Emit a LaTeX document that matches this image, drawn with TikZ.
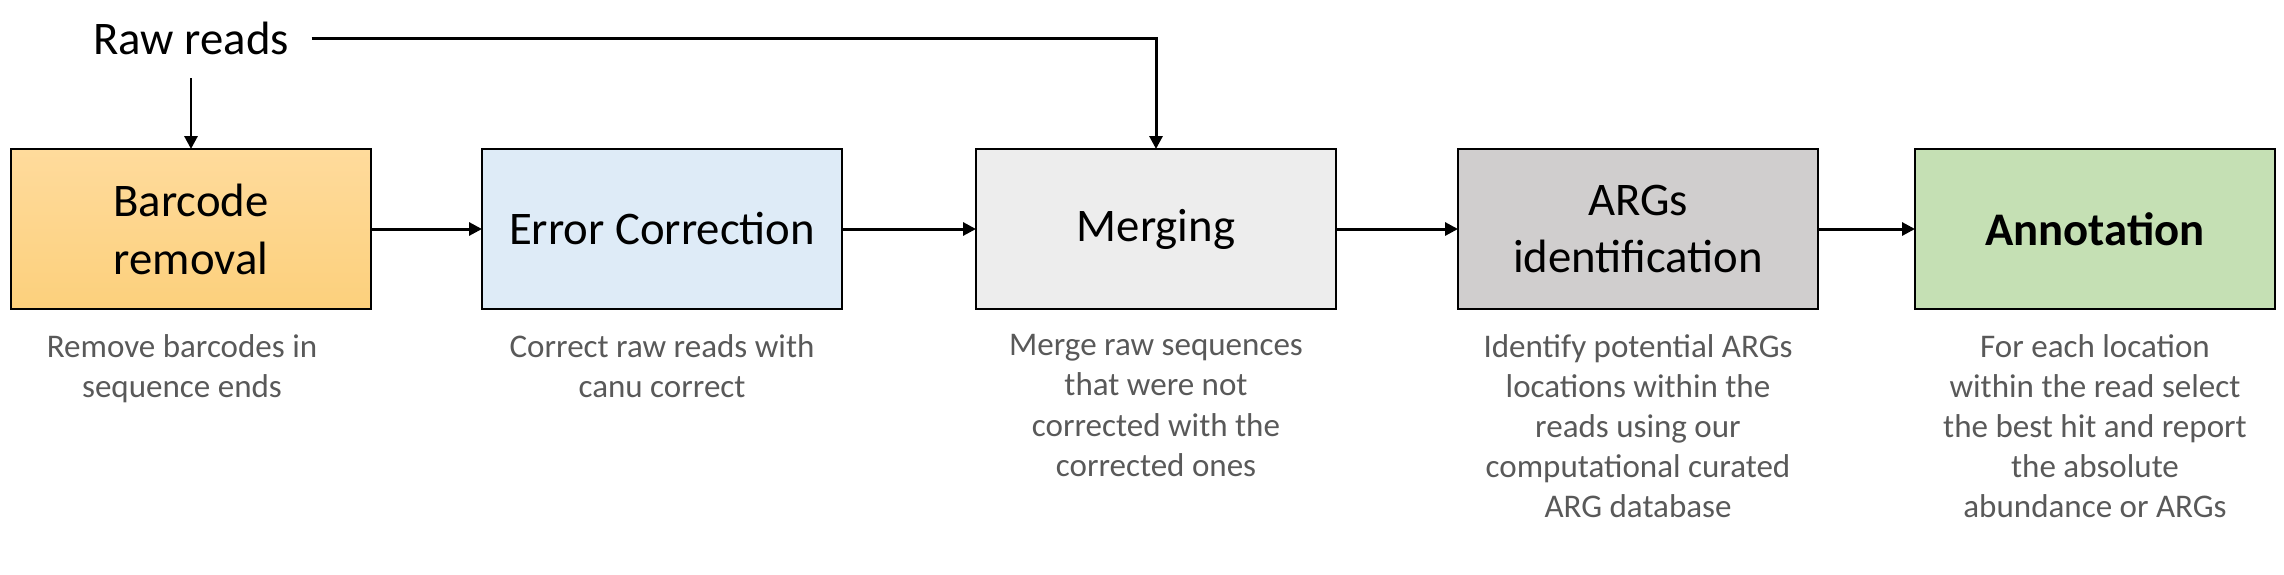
\documentclass[tikz,border=0pt]{standalone}
\usepackage{fontspec}
\setmainfont{Carlito}
\usepackage{tikz}
\usetikzlibrary{arrows.meta,positioning}
\definecolor{cBarT}{HTML}{FFDB9C}
\definecolor{cBarB}{HTML}{FCD07C}
\definecolor{cErr}{HTML}{DEEBF7}
\definecolor{cMrg}{HTML}{EDEDED}
\definecolor{cArg}{HTML}{D0CECE}
\definecolor{cAnn}{HTML}{C5E0B4}
\definecolor{cInk}{HTML}{000000}
\definecolor{cNote}{HTML}{595959}
\tikzset{
  >={Triangle[length=1.3mm,width=1.3mm]},
  stage/.style ={draw=cInk,line width=0.65pt,minimum width=3.6cm,minimum height=1.6cm,
                 inner sep=0pt,outer sep=0pt,align=center,font=\fontsize{13.3}{16.5}\selectfont},
  bstage/.style={stage,top color=cBarT,bottom color=cBarB},
  estage/.style={stage,fill=cErr}, mstage/.style={stage,fill=cMrg},
  gstage/.style={stage,fill=cArg}, astage/.style={stage,fill=cAnn},
  src/.style   ={inner sep=2.2mm,font=\fontsize{13.3}{16.5}\selectfont},
  note/.style  ={align=center,inner sep=0pt,text=cNote,font=\fontsize{9.4}{11.4}\selectfont},
  ar/.style    ={->,line width=0.85pt,cInk},
}

\begin{document}
\begin{tikzpicture}
\useasboundingbox (0,0) rectangle (22.84,-5.74);
\node[bstage] (bar) at (1.91,-2.29) {Barcode\\removal};
\node[estage,right=1.11cm of bar] (err) {Error Correction};
\node[mstage,right=1.34cm of err] (mrg) {Merging};
\node[gstage,right=1.22cm of mrg] (arg) {ARGs\\identification};
\node[astage,right=0.97cm of arg] (ann) {\textbf{Annotation}};
\node[src,above=0.71cm of bar] (raw) {Raw reads};
\node[note,below=0.25cm of bar,xshift=-0.09cm] (barN) {Remove barcodes in\\sequence ends};
\node[note,below=0.25cm of err] (errN) {Correct raw reads with\\canu correct};
\node[note,below=0.25cm of mrg] (mrgN) {Merge raw sequences\\that were not\\corrected with the\\corrected ones};
\node[note,below=0.25cm of arg] (argN) {Identify potential ARGs\\locations within the\\reads using our\\computational curated\\ARG database};
\node[note,below=0.25cm of ann] (annN) {For each location\\within the read select\\the best hit and report\\the absolute\\abundance or ARGs};
\draw[ar] (raw) -- (bar);
\draw[ar] (raw) -| (mrg);
\draw[ar] (bar) -- (err);
\draw[ar] (err) -- (mrg);
\draw[ar] (mrg) -- (arg);
\draw[ar] (arg) -- (ann);
\end{tikzpicture}
\end{document}
